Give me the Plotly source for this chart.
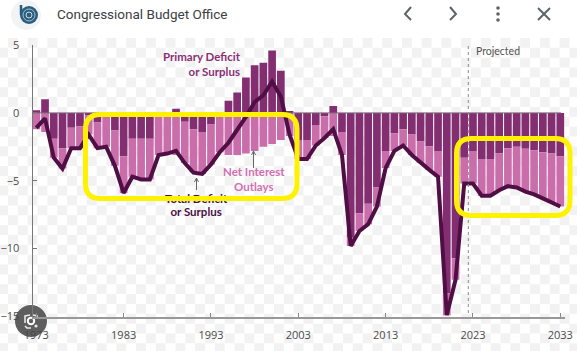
import plotly.graph_objects as go

years = list(range(1973, 2034))
primary = [0.2, 1.0, -1.9, -2.6, -1.1, -1.0, -0.2, -0.7, -0.1, -1.3, -3.2, -1.9, -1.9, -1.9, -0.1,
           0.0, 0.3, -0.65, -1.2, -1.4, -0.85, -0.05, 0.9, 1.5, 2.6, 3.5, 3.7, 4.6, 3.1, 0.1,
           -2.0, -2.0, -0.9, -0.25, 0.5, -1.4, -9.2, -7.4, -6.7, -5.5, -2.8, -1.5, -1.2, -1.6, -2.1,
           -2.45, -2.8, -13.3, -10.7, -3.3, -2.8, -3.4, -3.4, -3.0, -2.6, -2.5, -2.65, -2.75, -2.9, -3.0, -3.2]
interest = [-1.2, -1.4, -1.4, -1.5, -1.5, -1.6, -1.4, -1.9, -2.4, -2.6, -2.7, -2.8, -3.0, -3.0, -3.0,
            -3.0, -3.1, -3.05, -3.2, -3.1, -2.95, -2.85, -3.1, -3.1, -3.0, -2.8, -2.5, -2.3, -2.0, -1.7,
            -1.4, -1.4, -1.5, -1.6, -1.7, -1.7, -0.6, -1.3, -1.5, -1.4, -1.26, -1.3, -1.2, -1.5, -1.6,
            -1.75, -1.9, -1.6, -1.6, -1.9, -2.4, -2.7, -2.7, -2.7, -2.8, -3.0, -3.15, -3.25, -3.4, -3.6, -3.7]
total = [-1.1, -0.4, -3.3, -4.1, -2.6, -2.6, -1.6, -2.6, -2.5, -3.9, -5.9, -4.7, -4.9, -4.9, -3.1,
         -3.0, -2.8, -3.7, -4.4, -4.5, -3.8, -2.9, -2.2, -1.3, -0.3, 0.8, 1.3, 2.3, 1.2, -1.6,
         -3.4, -3.4, -2.4, -1.85, -1.2, -3.1, -9.8, -8.7, -8.2, -6.9, -4.06, -2.8, -2.4, -3.1, -3.7,
         -4.2, -4.7, -14.9, -12.3, -5.2, -5.2, -6.1, -6.1, -5.7, -5.4, -5.5, -5.8, -6.0, -6.3, -6.6, -6.9]
y_ticks = [5, 0, -5, -10, -15]
y_labels = ["5", "0", "−5", "−10", "−15"]
x_ticks = [1973, 1983, 1993, 2003, 2013, 2023, 2033]

W, H = 577, 351
def px(x): return x / W
def py(y): return 1 - y / H

# axis geometry in page pixels
left, right, top, bottom = 32.5, 565, 45, 316.5
per_year = 8.733
xr = [1973 + (left - 36.3) / per_year, 2033 + (right - 560.3) / per_year]

fig = go.Figure()
fig.add_bar(x=years, y=primary, marker=dict(color="#842e72", line_width=0), name="Primary")
fig.add_bar(x=years, y=interest, marker=dict(color="#c96eab", line_width=0), name="Interest")
fig.add_scatter(x=years, y=total, mode="lines", line=dict(color="#4f0f45", width=4), name="Total")
fig.add_scatter(x=[1991.3, 1991.3], y=[-6.4, -7.4], mode="text", text=["Total Deficit", "or Surplus"],
                textfont=dict(family="Lato", size=11.5, color="#4a0f45", weight=700), cliponaxis=False)


def rrect(x0, y0, x1, y1, r):
    X = lambda v: f"{px(v):.5f}"
    Y = lambda v: f"{py(v):.5f}"
    return (f"M{X(x0 + r)},{Y(y0)} L{X(x1 - r)},{Y(y0)} Q{X(x1)},{Y(y0)} {X(x1)},{Y(y0 + r)} "
            f"L{X(x1)},{Y(y1 - r)} Q{X(x1)},{Y(y1)} {X(x1 - r)},{Y(y1)} L{X(x0 + r)},{Y(y1)} "
            f"Q{X(x0)},{Y(y1)} {X(x0)},{Y(y1 - r)} L{X(x0)},{Y(y0 + r)} Q{X(x0)},{Y(y0)} {X(x0 + r)},{Y(y0)} Z")


def seg(pts, color, width, layer="above"):
    d = "M" + " L".join(f"{px(a):.5f},{py(b):.5f}" for a, b in pts)
    return dict(type="path", xref="paper", yref="paper", path=d, layer=layer,
                line=dict(color=color, width=width))


def circle(cx, cy, r, fill, line=None, lw=0, layer="above"):
    return dict(type="circle", xref="paper", yref="paper", x0=px(cx - r), x1=px(cx + r),
                y0=py(cy + r), y1=py(cy - r), fillcolor=fill, layer=layer,
                line=dict(color=line or "rgba(0,0,0,0)", width=lw))


# checkered backdrop
P = 19.7
S = P / 2
parts = []
row = 0
y = 38.0
while y < H:
    x = 8.0 - (P if row % 2 == 0 else S + P)
    while x < W:
        a, b = max(x, 0), min(x + S, W)
        if b > a:
            parts.append(f"M{px(a):.5f},{py(y):.5f} L{px(b):.5f},{py(y):.5f} "
                         f"L{px(b):.5f},{py(y + S):.5f} L{px(a):.5f},{py(y + S):.5f} Z")
        x += P
    y += S
    row += 1

shapes = [dict(type="path", xref="paper", yref="paper", path=" ".join(parts), fillcolor="#f2f2f2",
               line_width=0, layer="below")]
# zero line and projection marker
shapes.append(dict(type="line", xref="paper", yref="y", x0=px(left), x1=px(561), y0=0, y1=0,
                   line=dict(color="#7d6a78", width=1), layer="above"))
shapes.append(dict(type="line", xref="paper", yref="paper", x0=px(468.3), x1=px(468.3), y0=py(46), y1=py(316),
                   line=dict(color="#8a8a8a", width=1, dash="dot"), layer="above"))
# yellow call-outs
for box in [(85.5, 114.5, 297, 198.5), (456.5, 138.5, 570, 215.5)]:
    shapes.append(dict(type="path", xref="paper", yref="paper", path=rrect(*box, 15),
                       line=dict(color="#fff200", width=5), layer="above"))
# little arrows
for ax_x, y0, y1 in [(253.5, 168, 151), (196.5, 190, 178)]:
    shapes.append(seg([(ax_x, y0), (ax_x, y1)], "#666666", 1))
    shapes.append(seg([(ax_x - 2, y1 + 4), (ax_x, y1), (ax_x + 2, y1 + 4)], "#666666", 1))
# header icons
shapes.append(circle(26, 15, 15, "#f1f3f4"))
shapes.append(circle(29, 15, 9, "#2a5d80"))
shapes.append(seg([(21, 5), (21, 15)], "#2a5d80", 2.5))
shapes.append(circle(29, 15, 6, "rgba(0,0,0,0)", "#a9c0cf", 1))
shapes.append(circle(29, 15, 3, "rgba(0,0,0,0)", "#cfdde6", 1))
shapes.append(seg([(411, 7), (405, 14), (411, 20)], "#5f6368", 2))
shapes.append(seg([(450, 7), (456, 14), (450, 20)], "#5f6368", 2))
for cy in (8, 14, 20):
    shapes.append(circle(498, cy, 1.8, "#5f6368"))
shapes.append(seg([(538, 8), (550, 20)], "#5f6368", 2))
shapes.append(seg([(550, 8), (538, 20)], "#5f6368", 2))
# lens badge, under the axis labels so that "1973" and "-15" stay readable on it
shapes.append(circle(31, 321, 16, "#5e5e5e", layer="below"))
shapes.append(circle(31, 321, 3.2, "rgba(0,0,0,0)", "#ffffff", 2, layer="below"))
shapes.append(circle(36, 326, 1.6, "#e8e8e8", layer="below"))
shapes.append(seg([(25, 323), (25, 316), (30, 315)], "#e8e8e8", 1.6, layer="below"))
shapes.append(seg([(33, 315), (37, 316), (37, 319)], "#e8e8e8", 1.6, layer="below"))
shapes.append(seg([(25, 326), (27, 328), (31, 328)], "#e8e8e8", 1.6, layer="below"))

ann = dict(xref="paper", yref="paper", showarrow=False)
annotations = [
    dict(ann, x=px(55), y=py(14), xanchor="left", yanchor="middle", text="Congressional Budget Office",
         font=dict(family="Roboto", size=13.5, color="#3c4043")),
    dict(ann, x=px(243), y=py(64), xanchor="right", yanchor="middle", align="right",
         text="Primary Deficit<br>or Surplus",
         font=dict(family="Lato", size=11.5, color="#8b2f75", weight=700)),
    dict(ann, x=px(254), y=py(179), xanchor="center", yanchor="middle", align="center",
         text="Net Interest<br>Outlays",
         font=dict(family="Lato", size=11.5, color="#cf6fb2", weight=700)),
    dict(ann, x=px(474), y=py(50.5), xanchor="left", yanchor="middle", text="Projected",
         font=dict(family="Lato", size=10.5, color="#555555")),
]

fig.update_layout(
    width=W, height=H, autosize=False, margin=dict(l=0, r=0, t=0, b=0),
    paper_bgcolor="white", plot_bgcolor="rgba(0,0,0,0)", barmode="relative", bargap=0.12,
    showlegend=False, shapes=shapes, annotations=annotations,
    xaxis=dict(domain=[px(left), px(right)], range=xr, tickvals=x_ticks, ticks="inside", ticklen=4,
               tickcolor="#888888", showgrid=False, zeroline=False, showline=True, linecolor="#999999",
               linewidth=1.5, anchor="y", tickfont=dict(family="Open Sans", size=11, color="#4a4a4a"),
               ticklabelstandoff=8, automargin=False),
    yaxis=dict(domain=[py(bottom), py(top)], range=[-15, 5], tickvals=y_ticks, ticktext=y_labels,
               ticks="inside", ticklen=4, tickcolor="#777777", showgrid=False, zeroline=False,
               showline=True, linecolor="#777777", linewidth=1, anchor="x",
               tickfont=dict(family="Open Sans", size=11, color="#4a4a4a"), ticklabelstandoff=10,
               automargin=False),
)

fig.write_html("out.html", config={"displayModeBar": False},
               post_script="document.body.style.margin='0';document.body.style.overflow='hidden';")
